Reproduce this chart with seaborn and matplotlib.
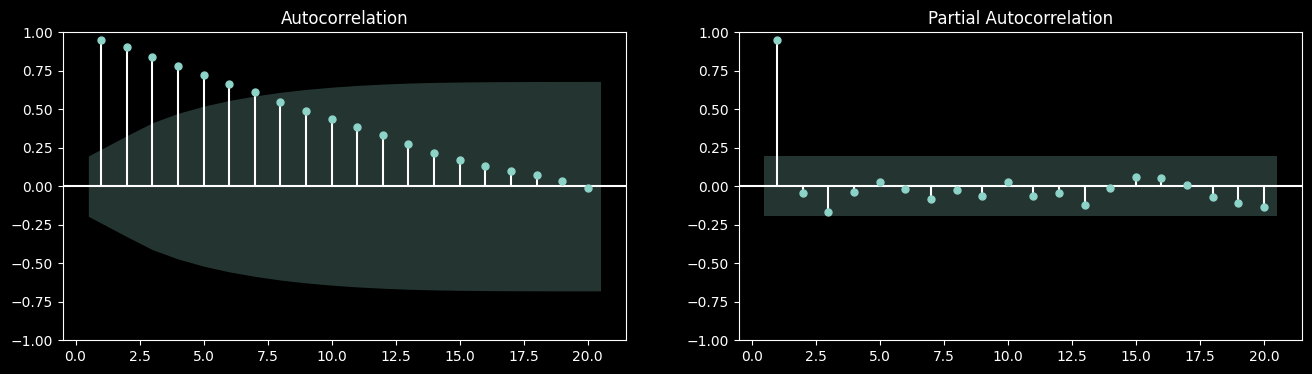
import numpy as np
import seaborn as sns
import matplotlib
matplotlib.use("Agg")
import matplotlib.pyplot as plt

lags = np.arange(1, 21)
acf_vals = [0.948, 0.902, 0.837, 0.778, 0.720, 0.661, 0.609, 0.550, 0.491, 0.439,
            0.387, 0.335, 0.276, 0.217, 0.172, 0.133, 0.100, 0.074, 0.035, -0.009]
pacf_vals = [0.948, -0.043, -0.167, -0.037, 0.028, -0.017, -0.083, -0.024, -0.063, 0.028,
             -0.063, -0.043, -0.122, -0.011, 0.061, 0.054, 0.009, -0.070, -0.109, -0.135]
nobs = 100

plt.style.use("dark_background")
point_color = "#8dd3c7"

# 95% bands: Bartlett for the ACF, 1.96/sqrt(n) for the PACF
acf_arr = np.array(acf_vals)
var_acf = np.ones(len(lags)) / nobs
var_acf[1:] = (1 + 2 * np.cumsum(acf_arr[:-1] ** 2)) / nobs
acf_band = 1.96 * np.sqrt(var_acf)
pacf_band = np.full(len(lags), 1.96 / np.sqrt(nobs))

band_x = lags.astype(float).copy()
band_x[0] -= 0.5
band_x[-1] += 0.5

fig, axes = plt.subplots(1, 2, figsize=(13.12, 3.74), dpi=100)
fig.subplots_adjust(left=0.0478, right=0.9926, top=0.9136, bottom=0.0909, wspace=0.2)

for ax, vals, band, title in [(axes[0], acf_vals, acf_band, "Autocorrelation"),
                              (axes[1], pacf_vals, pacf_band, "Partial Autocorrelation")]:
    ax.vlines(lags, 0, vals, colors="white", linewidth=1.5)
    ax.axhline(0, color="white", linewidth=1.5)
    sns.scatterplot(x=lags, y=vals, ax=ax, color=point_color, s=25,
                    edgecolor=point_color, linewidth=1, zorder=3)
    ax.fill_between(band_x, -band, band, color=point_color, alpha=0.25, linewidth=0)
    ax.set_ylim(-1, 1)
    ax.set_yticks(np.arange(-1, 1.01, 0.25))
    ax.set_xticks(np.arange(0, 20.1, 2.5))
    ax.set_xlim(-0.5, 21.5)
    ax.set_title(title)

fig.savefig("out.png", dpi=100, facecolor="black")
